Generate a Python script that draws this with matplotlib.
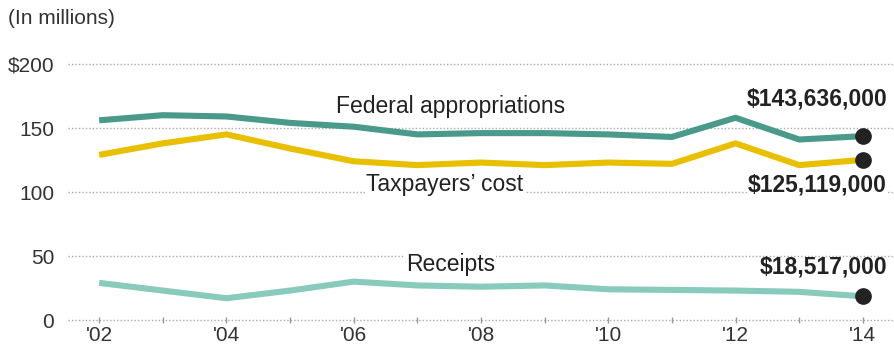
import matplotlib
matplotlib.use("Agg")
import matplotlib.pyplot as plt

plt.rcParams["font.family"] = ["Liberation Sans", "DejaVu Sans"]

years = list(range(2002, 2015))
federal = [156, 160, 159, 154, 151, 145, 146, 146, 145, 143, 158, 141, 143.636]
taxpayers = [129, 138, 145, 134, 124, 121, 123, 121, 123, 122, 138, 121, 125.119]
receipts = [29, 23, 17, 23, 30, 27, 26, 27, 24, 23.5, 23, 22, 18.517]
yticks = [0, 50, 100, 150, 200]
ytick_labels = ["0", "50", "100", "150", "$200"]
xtick_labels = ["'02", "'04", "'06", "'08", "'10", "'12", "'14"]

fig = plt.figure(figsize=(8.94, 3.52), dpi=100)
ax = fig.add_axes([68 / 894, 32 / 352, 826 / 894, 256 / 352])

# dotted grid
for v in yticks:
    ax.axhline(v, color="#aaaaaa", linestyle=(0, (1, 1.5)), linewidth=1, zorder=1, clip_on=False)

c_fed = "#4a9a8c"
c_tax = "#e8c000"
c_rec = "#88cbbd"
ax.plot(years, federal, color=c_fed, linewidth=4.4, solid_capstyle="butt", zorder=3)
ax.plot(years, taxpayers, color=c_tax, linewidth=4.4, solid_capstyle="butt", zorder=3)
ax.plot(years, receipts, color=c_rec, linewidth=4.4, solid_capstyle="butt", zorder=3)
for s in (federal, taxpayers, receipts):
    ax.plot(years[-1], s[-1], "o", color="#222222", markersize=11, zorder=4, clip_on=False)

ax.set_xlim(2001.51, 2014.49)
ax.set_ylim(0, 200)
for sp in ax.spines.values():
    sp.set_visible(False)
ax.set_yticks(yticks)
ax.set_yticklabels(ytick_labels)
ax.set_xticks(years)
ax.set_xticklabels([xtick_labels[i // 2] if i % 2 == 0 else "" for i in range(len(years))])
ax.tick_params(axis="y", length=0, pad=10, labelsize=15, labelcolor="#333333")
ax.tick_params(axis="x", length=5, width=1, color="#999999", pad=2, labelsize=15,
               labelcolor="#333333", direction="inout")

txt = dict(fontsize=16.5, color="#222222", va="center", zorder=5)
bg = dict(facecolor="white", edgecolor="none", pad=1)
ax.text(2007.52, 167, "Federal appropriations", ha="center", **txt)
ax.text(2006.2, 105.5, "Taxpayers\u2019 cost", ha="left", bbox=bg, **txt)
ax.text(2006.82, 43, "Receipts", ha="left", bbox=bg, **txt)

val = dict(fontsize=16.5, color="#222222", va="center", ha="right", fontweight="bold", zorder=5)
ax.text(2014.38, 173, "$143,636,000", **val)
ax.text(2014.38, 105.5, "$125,119,000", bbox=bg, **val)
ax.text(2014.38, 41.5, "$18,517,000", **val)

fig.text(8 / 894, 1 - 18 / 352, "(In millions)", fontsize=15, color="#333333", va="center")

fig.savefig("out.png", dpi=100)
